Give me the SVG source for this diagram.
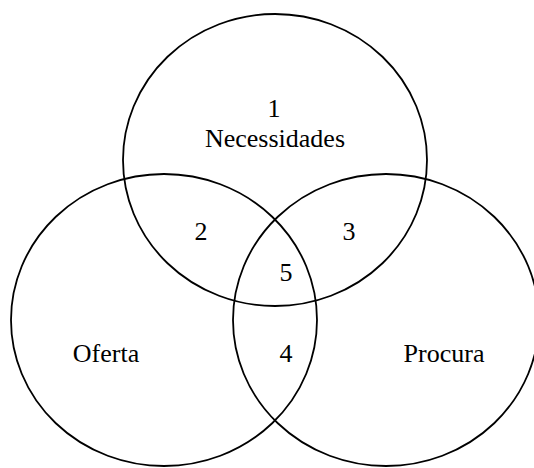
<svg xmlns="http://www.w3.org/2000/svg" width="534" height="468" viewBox="0 0 534 468">
<style>
.c{fill:none;stroke:#000;stroke-width:1.8}
text{font-family:"Liberation Serif","Times New Roman",serif;font-size:26px;fill:#000;text-anchor:middle}
</style>
<rect width="534" height="468" fill="#fff"/>
<g id="necessidades"><ellipse class="c" cx="275" cy="160" rx="152" ry="146"/><text x="274" y="117">1</text><text x="275" y="147">Necessidades</text></g>
<g id="oferta"><ellipse class="c" cx="164" cy="320" rx="153" ry="146"/><text x="106" y="362">Oferta</text></g>
<g id="procura"><ellipse class="c" cx="386" cy="320" rx="153" ry="146"/><text x="444" y="362">Procura</text></g>
<g id="regions"><text x="201" y="240">2</text><text x="349" y="240">3</text><text x="286" y="281">5</text><text x="286" y="362">4</text></g>
</svg>
